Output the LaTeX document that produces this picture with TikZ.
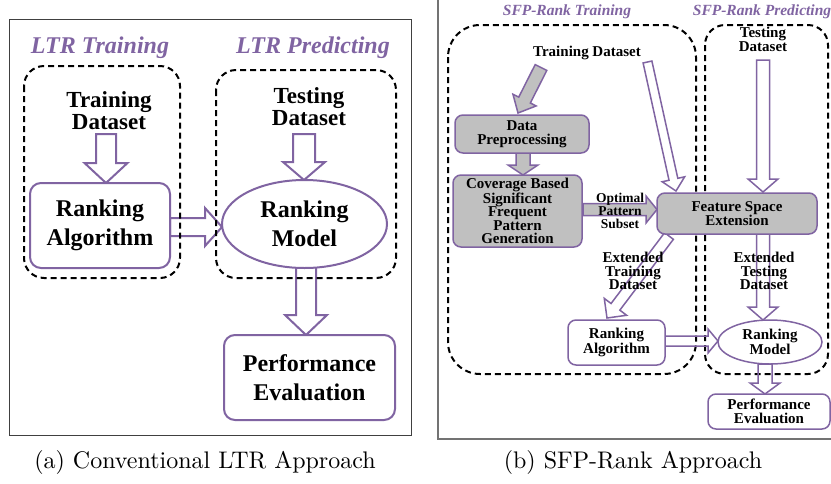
\documentclass[tikz,border=0pt]{standalone}
\usepackage{fontspec}
\newfontfamily\tnr{Liberation Serif}
\usetikzlibrary{calc,shapes.geometric}
\definecolor{purp}{RGB}{128,100,162}
\definecolor{boxgray}{RGB}{192,192,192}
\newcommand{\blockarr}[6][]{%
  \coordinate (bah) at ($(#3)!#6!(#2)$);
  \draw[#1] ($(#2)!#4!90:(#3)$) -- ($(bah)!#4!90:(#3)$) -- ($(bah)!#5!90:(#3)$) -- (#3)
    -- ($(bah)!#5!-90:(#3)$) -- ($(bah)!#4!-90:(#3)$) -- ($(#2)!#4!-90:(#3)$) -- cycle;
}
\tikzset{
  titleA/.style={text=purp, inner sep=0, font=\tnr\bfseries\itshape\fontsize{24}{28}\selectfont},
  titleB/.style={text=purp, inner sep=0, font=\tnr\bfseries\itshape\fontsize{15.5}{16}\selectfont},
  txtA/.style={inner sep=0, align=center, font=\tnr\bfseries\fontsize{23}{22}\selectfont},
  boxA/.style={draw=purp, line width=2pt, fill=white, rounded corners=11pt, inner sep=0, align=center,
    font=\tnr\bfseries\fontsize{24}{29}\selectfont},
  ellA/.style={boxA, ellipse, rounded corners=0pt},
  txtB/.style={inner sep=0, align=center, font=\tnr\bfseries\fontsize{15}{13.5}\selectfont},
  smallB/.style={inner sep=0, align=center, font=\tnr\bfseries\fontsize{13.5}{13}\selectfont},
  boxB/.style={draw=purp, line width=1.5pt, fill=white, rounded corners=8pt, inner sep=0, align=center,
    font=\tnr\bfseries\fontsize{15}{13.5}\selectfont},
  grayB/.style={boxB, fill=boxgray},
  ellB/.style={boxB, ellipse, rounded corners=0pt},
  dashbox/.style={draw=black, line width=2pt, dash pattern=on 6pt off 4pt},
  harrA/.style={draw=purp, line width=2pt, line join=miter},
  harrB/.style={draw=purp, line width=1.5pt, line join=miter},
  garrB/.style={draw=purp, fill=boxgray, line width=1.5pt, line join=miter},
  caption/.style={inner sep=0, scale=2.4}
}
\begin{document}
\begin{tikzpicture}[x=1pt,y=-1pt]
\useasboundingbox (0,0) rectangle (831,483);
\fill[white] (0,0) rectangle (831,483);

% ---------------- Panel (a) ----------------
\draw[line width=1pt, draw=black!75] (9,19) rectangle (411,435);
\node[titleA] (tA1) at (100,48) {LTR Training};
\node[titleA] (tA2) at (313,48) {LTR Predicting};

\coordinate (a1s) at (106,134);  \coordinate (a1e) at (106,183);
\coordinate (a2s) at (170,227);  \coordinate (a2e) at (222,227);
\coordinate (a3s) at (304,134);  \coordinate (a3e) at (304,180);
\coordinate (a4s) at (306,267);  \coordinate (a4e) at (306,335);
\blockarr[harrA]{a1s}{a1e}{10pt}{21.5pt}{20pt}
\blockarr[harrA]{a2s}{a2e}{9pt}{19pt}{17pt}
\blockarr[harrA]{a3s}{a3e}{11pt}{21pt}{18pt}
\blockarr[harrA]{a4s}{a4e}{10pt}{21pt}{20pt}

\node[txtA] (tdA) at (109,111) {Training\\Dataset};
\node[txtA] (testA) at (309,107) {Testing\\Dataset};
\node[boxA, minimum width=140pt, minimum height=85pt] (raA) at (100,225.5) {Ranking\\Algorithm};
\node[ellA, minimum width=165pt, minimum height=88pt] (rmA) at (304.5,224) {Ranking\\Model};
\node[boxA, minimum width=171pt, minimum height=85pt] (peA) at (309.5,377.5) {Performance\\Evaluation};

\draw[dashbox, rounded corners=20pt] (24,66) rectangle (180,278);
\draw[dashbox, rounded corners=20pt] (216,70) rectangle (396,278);

% ---------------- Panel (b) ----------------
\draw[line width=1.5pt, draw=black!55] (438,0) -- (438,439) -- (831,439);
\node[titleB] (tB1) at (567,12) {SFP-Rank Training};
\node[titleB] (tB2) at (762,12) {SFP-Rank Predicting};

\draw[dashbox, rounded corners=32pt] (448,25) rectangle (696,374);
\draw[dashbox, rounded corners=20pt] (705,25) rectangle (828,374);

\coordinate (b1s) at (541,67.5); \coordinate (b1e) at (518,113);
\coordinate (b2s) at (523,153);  \coordinate (b2e) at (523,175);
\coordinate (b3s) at (583,209.5);\coordinate (b3e) at (657,209.5);
\coordinate (b4s) at (647.5,62); \coordinate (b4e) at (676,191);
\coordinate (b5s) at (763,60);   \coordinate (b5e) at (763,192);
\coordinate (b6s) at (669,236);  \coordinate (b6e) at (607,318);
\coordinate (b7s) at (763,234);  \coordinate (b7e) at (763,320);
\coordinate (b8s) at (665,341);  \coordinate (b8e) at (718,341);
\coordinate (b9s) at (765,364);  \coordinate (b9e) at (765,394);
\blockarr[garrB]{b1s}{b1e}{6.5pt}{13pt}{14.5pt}
\blockarr[garrB]{b2s}{b2e}{7pt}{15pt}{10pt}
\blockarr[garrB]{b3s}{b3e}{6pt}{13.5pt}{11pt}
\blockarr[harrB]{b4s}{b4e}{4.5pt}{11.5pt}{12pt}
\blockarr[harrB]{b5s}{b5e}{6.5pt}{15pt}{13pt}
\blockarr[harrB]{b6s}{b6e}{5.5pt}{14pt}{14pt}
\blockarr[harrB]{b7s}{b7e}{6.5pt}{15pt}{13pt}
\blockarr[harrB]{b8s}{b8e}{5pt}{12pt}{10pt}
\blockarr[harrB]{b9s}{b9e}{7pt}{15pt}{11pt}

\node[txtB] (tdB) at (587,53) {Training Dataset};
\node[txtB] (testB) at (763,39.5) {Testing\\Dataset};
\node[grayB, minimum width=134pt, minimum height=38pt] (dpB) at (522,134) {Data\\Preprocessing};
\node[grayB, minimum width=129pt, minimum height=72pt] (covB) at (517.5,211) {Coverage Based\\Significant\\Frequent\\Pattern\\Generation};
\node[grayB, minimum width=160pt, minimum height=41pt] (fseB) at (737,213.5) {Feature Space\\Extension};
\node[smallB] (optB) at (620,211) {Optimal\\Pattern\\Subset};
\node[txtB] (etrB) at (633,271) {Extended\\Training\\Dataset};
\node[txtB] (eteB) at (764,271) {Extended\\Testing\\Dataset};
\node[boxB, minimum width=97pt, minimum height=45pt] (raB) at (616.5,342.5) {Ranking\\Algorithm};
\node[ellB, minimum width=104pt, minimum height=44pt] (rmB) at (770,342) {Ranking\\Model};
\node[boxB, minimum width=122pt, minimum height=35pt] (peB) at (769,411.5) {Performance\\Evaluation};

% captions
\node[caption] (capA) at (205,462) {(a) Conventional LTR Approach};
\node[caption] (capB) at (633,462) {(b) SFP-Rank Approach};
\end{tikzpicture}
\end{document}
